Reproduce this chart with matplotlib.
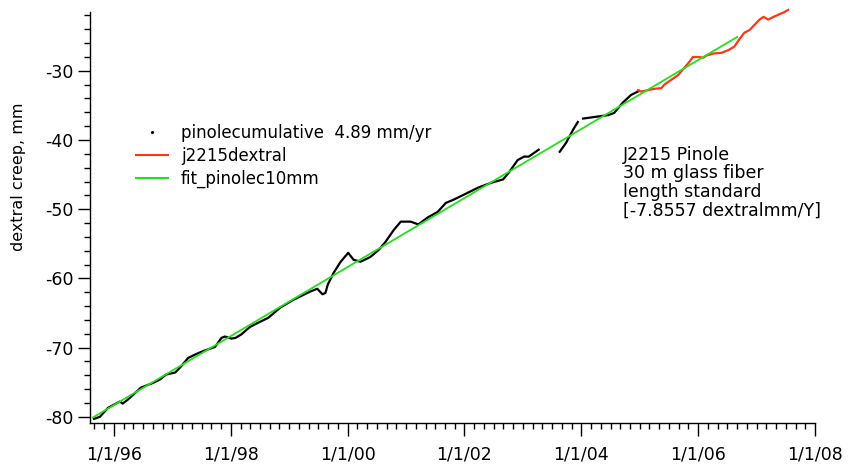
#!/usr/bin/env python3

import numpy as np
import matplotlib.pyplot as plt
from matplotlib.lines import Line2D
from matplotlib.ticker import MultipleLocator, FixedLocator

# cumulative creep at Pinole (decimal year, mm); NaN breaks mark data gaps
pinole_years = [1995.66, 1995.76, 1995.90, 1996.10, 1996.15, 1996.24, 1996.46, 1996.67,
                1996.79, 1996.89, 1997.05, 1997.13, 1997.27, 1997.39, 1997.53, 1997.73,
                1997.84, 1997.90, 1998.01, 1998.08, 1998.18, 1998.33, 1998.47, 1998.64,
                1998.85, 1999.07, 1999.36, 1999.48, 1999.57, 1999.62, 1999.66, 1999.76,
                1999.88, 2000.01, 2000.10, 2000.22, 2000.39, 2000.53, 2000.65, 2000.79,
                2000.91, 2001.08, 2001.21, 2001.37, 2001.54, 2001.68, 2001.82, 2001.99,
                2002.23, 2002.45, 2002.66, 2002.76, 2002.91, 2003.02, 2003.10, 2003.27,
                np.nan,
                2003.63, 2003.74, 2003.86, 2003.94,
                np.nan,
                2004.03, 2004.29, 2004.46, 2004.56, 2004.71, 2004.85, 2004.99]
pinole_creep = [-80.3, -80.0, -78.7, -77.8, -78.1, -77.5, -75.8, -75.1,
                -74.6, -73.9, -73.6, -72.9, -71.5, -71.0, -70.5, -69.9,
                -68.6, -68.4, -68.7, -68.6, -68.1, -67.0, -66.4, -65.7,
                -64.2, -63.1, -61.9, -61.5, -62.3, -62.1, -60.9, -59.2,
                -57.6, -56.3, -57.3, -57.6, -56.9, -55.9, -54.7, -53.0,
                -51.8, -51.8, -52.2, -51.2, -50.4, -49.1, -48.6, -47.9,
                -46.9, -46.2, -45.7, -44.7, -42.9, -42.4, -42.4, -41.4,
                np.nan,
                -41.7, -40.4, -38.5, -37.4,
                np.nan,
                -36.9, -36.6, -36.4, -36.1, -34.6, -33.5, -32.9]

# J2215 dextral series
j2215_years = [2004.97, 2005.02, 2005.14, 2005.25, 2005.37, 2005.42, 2005.54, 2005.66,
               2005.76, 2005.85, 2005.91, 2006.00, 2006.09, 2006.14, 2006.26, 2006.40,
               2006.52, 2006.62, 2006.70, 2006.79, 2006.88, 2006.96, 2007.05, 2007.12,
               2007.20, 2007.29, 2007.37, 2007.48, 2007.54]
j2215_creep = [-32.8, -33.0, -32.8, -32.6, -32.5, -32.0, -31.3, -30.6,
               -29.6, -28.7, -28.0, -28.0, -28.1, -27.8, -27.5, -27.4,
               -27.0, -26.5, -25.5, -24.5, -24.1, -23.4, -22.6, -22.2,
               -22.6, -22.2, -21.9, -21.5, -21.2]

# linear fit end points
fit_years = [1995.64, 2006.67]
fit_creep = [-80.1, -25.1]

year_ticks = [1996, 1998, 2000, 2002, 2004, 2006, 2008]
year_labels = ["1/1/96", "1/1/98", "1/1/00", "1/1/02", "1/1/04", "1/1/06", "1/1/08"]

legend_labels = ["pinolecumulative  4.89 mm/yr", "j2215dextral", "fit_pinolec10mm"]
note_lines = ["J2215 Pinole", "30 m glass fiber", "length standard",
              "[-7.8557 dextralmm/Y]"]

plt.rcParams['font.family'] = ['DejaVu Sans']
plt.rcParams['axes.unicode_minus'] = False

W, H = 851, 465
fig = plt.figure(figsize=(W / 100, H / 100), dpi=100)
ax = fig.add_axes([90 / W, 42 / H, 725 / W, 411 / H])

red = '#ff3614'
green = '#22e01a'

ax.plot(pinole_years, pinole_creep, color='black', lw=1.6)
ax.plot(j2215_years, j2215_creep, color=red, lw=1.6, clip_on=False)
ax.plot(fit_years, fit_creep, color=green, lw=1.3)

ax.set_xlim(1995.59, 2008.0)
ax.set_ylim(-80.9, -21.5)

ax.spines['top'].set_visible(False)
ax.spines['right'].set_visible(False)
for s in ('left', 'bottom'):
    ax.spines[s].set_linewidth(1.0)

ax.xaxis.set_major_locator(FixedLocator(year_ticks))
ax.set_xticklabels(year_labels)
ax.xaxis.set_minor_locator(MultipleLocator(1 / 6))
ax.yaxis.set_major_locator(MultipleLocator(10))
ax.yaxis.set_minor_locator(MultipleLocator(2))

ax.tick_params(axis='both', which='major', direction='out', length=9, width=1,
               labelsize=12.5, colors='black')
ax.tick_params(axis='both', which='minor', direction='out', length=4, width=1)
ax.tick_params(axis='x', which='major', pad=7)
ax.tick_params(axis='y', which='major', pad=3)

ax.set_ylabel("dextral creep, mm", fontsize=11.5)
ax.yaxis.set_label_coords(-0.088, 0.60)

handles = [Line2D([], [], color='black', marker='.', markersize=2.5, linestyle='none'),
           Line2D([], [], color=red, lw=1.5),
           Line2D([], [], color=green, lw=1.5)]
fig.legend(handles, legend_labels, loc='upper left',
           bbox_to_anchor=(136 / W, 1 - 124 / H), frameon=False, fontsize=12,
           handlelength=1.9, handletextpad=0.8, labelspacing=0.3, borderpad=0,
           borderaxespad=0)

for i, line in enumerate(note_lines):
    fig.text(623 / W, 1 - (155 + 18.5 * i) / H, line, fontsize=12.5,
             ha='left', va='center')

plt.savefig('out.png', dpi=100)
plt.close()
